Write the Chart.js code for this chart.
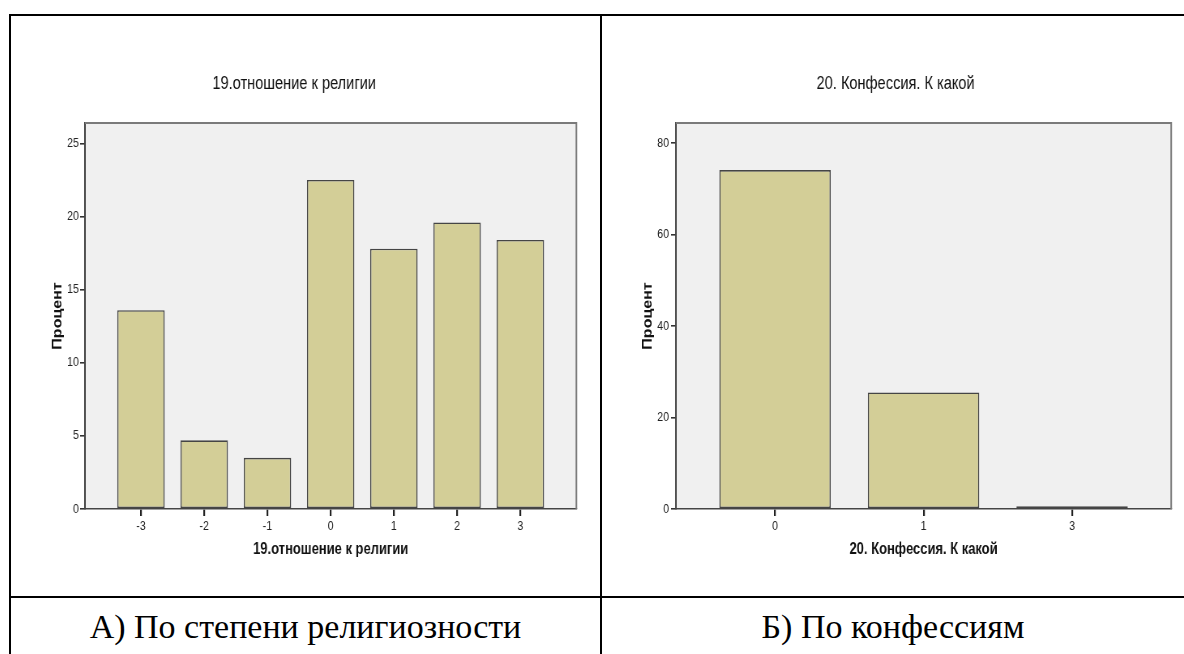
<!DOCTYPE html>
<html><head><meta charset="utf-8">
<script src="https://cdn.jsdelivr.net/npm/chart.js@4"></script>
<style>
html,body{margin:0;padding:0;background:#fff;width:1184px;height:654px;overflow:hidden;position:relative;}
.ln{position:absolute;background:#000;}
.cv{position:absolute;}
.cap{position:absolute;font-family:'Liberation Serif','Times New Roman',serif;font-size:34px;line-height:34px;color:#000;text-align:center;white-space:nowrap;}
</style></head><body>
<div class="ln" style="left:9px;top:14px;width:1175px;height:2px"></div>
<div class="ln" style="left:9px;top:14px;width:2px;height:640px"></div>
<div class="ln" style="left:600px;top:14px;width:2px;height:640px"></div>
<div class="ln" style="left:9px;top:596px;width:1175px;height:2px"></div>
<!-- the source charts are horizontally condensed images: internal canvas width is wider than its CSS width -->
<canvas id="c1" class="cv" style="left:12px;top:16px;width:586px;height:578px" width="723" height="578"></canvas>
<canvas id="c2" class="cv" style="left:620px;top:16px;width:564px;height:578px" width="696" height="578"></canvas>
<div class="cap" style="left:11px;width:589px;top:610px">А) По степени религиозности</div>
<div class="cap" style="left:602px;width:582px;top:610px">Б) По конфессиям</div>
<script>
// ---- data ----
const relCategories = ['-3', '-2', '-1', '0', '1', '2', '3'];
const relPercent = [13.6, 4.7, 3.5, 22.5, 17.8, 19.6, 18.4];
const relYTicks = [0, 5, 10, 15, 20, 25];
const relTitle = '19.отношение к религии';

const confCategories = ['0', '1', '3'];
const confPercent = [74.1, 25.5, 0.6];
const confYTicks = [0, 20, 40, 60, 80];
const confTitle = '20. Конфессия. К какой';

const yLabel = 'Процент';

// ---- styling ----
const FONT = "'Liberation Sans',Arial,sans-serif";

const plotFrame = {
  id: 'plotFrame',
  beforeDraw(chart) {
    const {ctx, chartArea: a} = chart;
    ctx.save();
    ctx.fillStyle = '#f0f0f0';
    ctx.fillRect(a.left, a.top, a.right - a.left, a.bottom - a.top);
    ctx.restore();
  },
  afterDraw(chart) {
    const {ctx, chartArea: a} = chart;
    ctx.save();
    ctx.strokeStyle = '#7a7a7a';
    ctx.lineWidth = 2;
    ctx.beginPath();
    ctx.moveTo(a.left, a.top);
    ctx.lineTo(a.right, a.top);
    ctx.lineTo(a.right, a.bottom);
    ctx.stroke();
    ctx.restore();
  }
};

function makeChart(id, cats, vals, yTicks, title, cfg) {
  return new Chart(document.getElementById(id), {
    type: 'bar',
    data: {
      datasets: [{
        data: vals.map((v, i) => ({x: i, y: v})),
        backgroundColor: '#d3ce97',
        borderColor: '#454545',
        borderWidth: 1.6,
        borderSkipped: false,
        barPercentage: 0.75,
        categoryPercentage: 1
      }]
    },
    options: {
      responsive: false,
      animation: false,
      devicePixelRatio: 1,
      layout: {padding: {left: 0, right: cfg.rightPad, top: 0, bottom: 0}},
      plugins: {
        legend: {display: false},
        tooltip: {enabled: false},
        title: {
          display: true,
          text: title,
          color: '#111',
          font: {family: FONT, size: 18, weight: 'normal'},
          padding: {top: 57.2, bottom: 28.2}
        }
      },
      scales: {
        x: {
          type: 'linear',
          offset: false,
          min: cfg.xMin, max: cfg.xMax,
          afterBuildTicks: s => { s.ticks = cats.map((_, i) => ({value: i})); },
          afterFit: s => { s.height = 85; },
          ticks: {
            callback: v => cats[v],
            color: '#222',
            font: {family: FONT, size: 13},
            padding: 3,
            maxRotation: 0, autoSkip: false
          },
          grid: {offset: false, drawOnChartArea: false, drawTicks: true, tickLength: 7, color: '#222', lineWidth: 2.2, tickColor: '#222', tickWidth: 2.2},
          border: {display: true, color: '#454545', width: 1.6},
          title: {
            display: true, text: title, color: '#111',
            font: {family: FONT, size: 16, weight: 'bold'},
            padding: {top: 0, bottom: 34.4}
          }
        },
        y: {
          type: 'linear',
          min: 0, max: cfg.yMax,
          afterBuildTicks: s => { s.ticks = yTicks.map(v => ({value: v})); },
          afterFit: s => { s.width = cfg.yWidth; },
          ticks: {
            color: '#222',
            font: {family: FONT, size: 13},
            padding: cfg.yTickPad
          },
          grid: {drawOnChartArea: false, drawTicks: true, tickLength: 6, color: '#333', lineWidth: 1.6},
          border: {display: true, color: '#454545', width: 2},
          title: {
            display: true, text: yLabel, color: '#111',
            font: {family: FONT, size: 16, weight: 'bold'},
            padding: {top: cfg.yTitlePad, bottom: 0}
          }
        }
      }
    },
    plugins: [plotFrame]
  });
}

makeChart('c1', relCategories, relPercent, relYTicks, relTitle,
  {xMin: -0.886, xMax: 6.886, yMax: 26.4, yWidth: 90, rightPad: 26.7, yTitlePad: 47.2, yTickPad: 1.5});
makeChart('c2', confCategories, confPercent, confYTicks, confTitle,
  {xMin: -0.667, xMax: 2.667, yMax: 84.4, yWidth: 69, rightPad: 15.8, yTitlePad: 25, yTickPad: 2.5});
</script>
</body></html>
